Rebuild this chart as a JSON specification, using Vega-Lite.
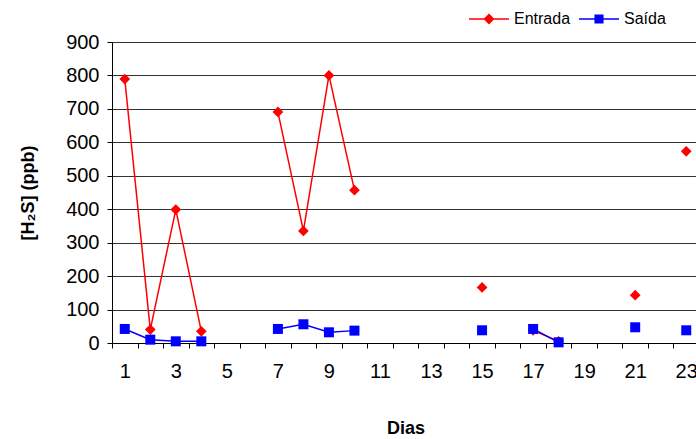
{
  "$schema": "https://vega.github.io/schema/vega-lite/v6.json",
  "width": 587,
  "height": 301,
  "autosize": {"type": "none"},
  "padding": {"left": 112, "top": 42, "right": 0, "bottom": 96},
  "background": "white",
  "config": {
    "view": {"stroke": null},
    "font": "Liberation Sans",
    "axis": {
      "domainColor": "#000000",
      "tickColor": "#000000",
      "labelColor": "#000000",
      "titleColor": "#000000",
      "labelFont": "Liberation Sans",
      "titleFont": "Liberation Sans",
      "labelFontSize": 20,
      "titleFontSize": 18,
      "titleFontWeight": "bold",
      "tickSize": 5,
      "domainWidth": 1,
      "tickWidth": 1
    }
  },
  "data": {
    "values": [
      {"day": 1, "series": "Entrada", "value": 789, "seg": "a"},
      {"day": 2, "series": "Entrada", "value": 40, "seg": "a"},
      {"day": 3, "series": "Entrada", "value": 399, "seg": "a"},
      {"day": 4, "series": "Entrada", "value": 35, "seg": "a"},
      {"day": 7, "series": "Entrada", "value": 691, "seg": "b"},
      {"day": 8, "series": "Entrada", "value": 335, "seg": "b"},
      {"day": 9, "series": "Entrada", "value": 800, "seg": "b"},
      {"day": 10, "series": "Entrada", "value": 457, "seg": "b"},
      {"day": 15, "series": "Entrada", "value": 166, "seg": "c"},
      {"day": 17, "series": "Entrada", "value": 38, "seg": "d"},
      {"day": 18, "series": "Entrada", "value": 5, "seg": "d"},
      {"day": 21, "series": "Entrada", "value": 143, "seg": "e"},
      {"day": 23, "series": "Entrada", "value": 573, "seg": "f"},
      {"day": 1, "series": "Saída", "value": 42, "seg": "a"},
      {"day": 2, "series": "Saída", "value": 10, "seg": "a"},
      {"day": 3, "series": "Saída", "value": 5, "seg": "a"},
      {"day": 4, "series": "Saída", "value": 5, "seg": "a"},
      {"day": 7, "series": "Saída", "value": 42, "seg": "b"},
      {"day": 8, "series": "Saída", "value": 56, "seg": "b"},
      {"day": 9, "series": "Saída", "value": 32, "seg": "b"},
      {"day": 10, "series": "Saída", "value": 37, "seg": "b"},
      {"day": 15, "series": "Saída", "value": 38, "seg": "c"},
      {"day": 17, "series": "Saída", "value": 42, "seg": "d"},
      {"day": 18, "series": "Saída", "value": 2, "seg": "d"},
      {"day": 21, "series": "Saída", "value": 47, "seg": "e"},
      {"day": 23, "series": "Saída", "value": 38, "seg": "f"}
    ]
  },
  "encoding": {
    "x": {
      "field": "day",
      "type": "ordinal",
      "bandPosition": 0.5,
      "scale": {
        "type": "band",
        "domain": [1,2,3,4,5,6,7,8,9,10,11,12,13,14,15,16,17,18,19,20,21,22,23],
        "paddingInner": 0,
        "paddingOuter": 0
      },
      "axis": {
        "title": "Dias",
        "tickBand": "extent",
        "labelExpr": "datum.value % 2 === 1 ? datum.label : ''",
        "labelAngle": 0,
        "labelPadding": 13,
        "titlePadding": 38,
        "grid": false
      }
    },
    "y": {
      "field": "value",
      "type": "quantitative",
      "scale": {"domain": [0, 900], "nice": false},
      "axis": {
        "title": "[H₂S] (ppb)",
        "values": [0,100,200,300,400,500,600,700,800,900],
        "grid": true,
        "gridColor": "#333333",
        "gridWidth": 1,
        "gridOpacity": 1,
        "labelPadding": 8,
        "titlePadding": 28
      }
    },
    "color": {
      "field": "series",
      "type": "nominal",
      "scale": {"domain": ["Entrada", "Saída"], "range": ["#FF0000", "#0000FF"]},
      "legend": {
        "orient": "none",
        "legendX": 356,
        "legendY": -44,
        "direction": "horizontal",
        "title": null,
        "symbolSize": 1600,
        "symbolType": "M-1,0H1M0,-0.22L0.22,0L0,0.22L-0.22,0Z",
        "symbolStrokeWidth": 1.5,
        "labelFontSize": 16,
        "labelFont": "Liberation Sans",
        "labelColor": "#000000",
        "labelOffset": 4,
        "columnPadding": 5,
        "padding": 0,
        "encode": {
          "symbols": {
            "update": {
              "shape": {"signal": "datum.value === 'Entrada' ? 'M-1,0H1M0,-0.22L0.22,0L0,0.22L-0.22,0Z' : 'M-1,0H1M-0.19,-0.19H0.19V0.19H-0.19Z'"},
              "fill": {"signal": "datum.value === 'Entrada' ? '#FF0000' : '#0000FF'"},
              "stroke": {"signal": "datum.value === 'Entrada' ? '#FF0000' : '#0000FF'"},
              "strokeWidth": {"value": 1.5},
              "opacity": {"value": 1}
            }
          }
        }
      }
    }
  },
  "layer": [
    {
      "mark": {"type": "line", "strokeWidth": 1.5},
      "encoding": {"detail": {"field": "seg"}}
    },
    {
      "transform": [{"filter": "datum.series === 'Entrada'"}],
      "mark": {"type": "point", "filled": true, "opacity": 1, "size": 115, "shape": "diamond"}
    },
    {
      "transform": [{"filter": "datum.series === 'Saída'"}],
      "mark": {"type": "point", "filled": true, "opacity": 1, "size": 100, "shape": "square"}
    }
  ]
}
